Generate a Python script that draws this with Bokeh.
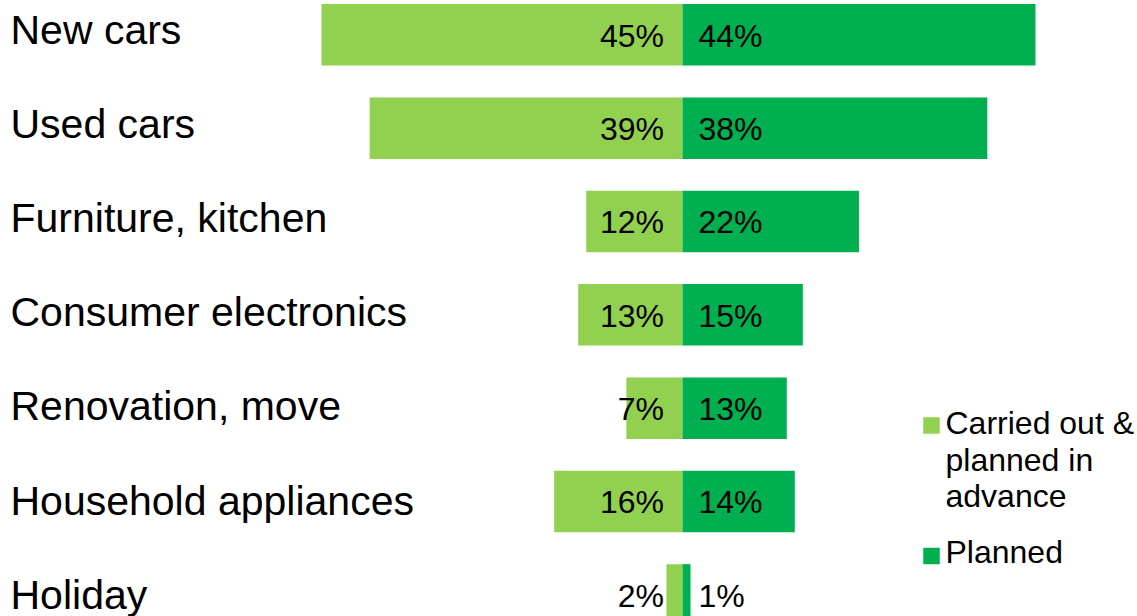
from bokeh.plotting import figure
from bokeh.models import Range1d, ColumnDataSource
from bokeh.core.properties import value
from bokeh.embed import file_html
from bokeh.resources import INLINE

# ---- data ----
categories = ["New cars", "Used cars", "Furniture, kitchen", "Consumer electronics",
              "Renovation, move", "Household appliances", "Holiday"]
carried_out = [45, 39, 12, 13, 7, 16, 2]   # Carried out & planned in advance
planned = [44, 38, 22, 15, 13, 14, 1]      # Planned
series_names = ["Carried out &\nplanned in\nadvance", "Planned"]

LIGHT = "#92D050"
DARK = "#00B050"
FONT = "Liberation Sans"

W, H = 1137, 616
PX_PER_X = 8.022     # pixels per percentage point
X0_PX = 682          # pixel position of 0 %
ROW_PX = 93.35       # pixels per row
ROW0_PX = 34.3       # pixel centre of first row

x_start = -X0_PX / PX_PER_X
x_end = (W - X0_PX) / PX_PER_X
y_top = -ROW0_PX / ROW_PX
y_bottom = (H - ROW0_PX) / ROW_PX


def px_x(px):
    return x_start + px / PX_PER_X


def px_y(py):
    return y_top + py / ROW_PX


p = figure(width=W, height=H, output_backend="svg", toolbar_location=None,
           x_range=Range1d(x_start, x_end), y_range=Range1d(y_bottom, y_top),
           min_border=0, outline_line_color=None)
p.axis.visible = False
p.grid.visible = False
p.background_fill_color = "white"
p.border_fill_color = "white"

n = len(categories)
idx = list(range(n))
src = ColumnDataSource(dict(
    y=idx,
    cat=categories,
    carried_left=[-v for v in carried_out],
    zero=[0] * n,
    planned=planned,
    carried_lbl=[f"{v}%" for v in carried_out],
    planned_lbl=[f"{v}%" for v in planned],
    lbl_y=[i + (12.3 - 11.5) / ROW_PX for i in idx],
    cat_y=[(42 - 13 + 94.2 * i - ROW0_PX) / ROW_PX for i in idx],
))

bar_h = 61.5 / ROW_PX
p.hbar(y="y", left="carried_left", right="zero", height=bar_h, source=src,
       fill_color=LIGHT, line_color=None)
p.hbar(y="y", left="zero", right="planned", height=bar_h, source=src,
       fill_color=DARK, line_color=None)

# value labels
p.text(x=px_x(663.5), y="lbl_y", text="carried_lbl", source=src,
       text_align="right", text_baseline="alphabetic",
       text_font=value(FONT), text_font_size="32px", text_color="black")
p.text(x=px_x(698), y="lbl_y", text="planned_lbl", source=src,
       text_align="left", text_baseline="alphabetic",
       text_font=value(FONT), text_font_size="32px", text_color="black")

# category labels
p.text(x=px_x(10), y="cat_y", text="cat", source=src,
       text_align="left", text_baseline="alphabetic",
       text_font=value(FONT), text_font_size="41px", text_color="black")

# legend
p.scatter(x=[px_x(931), px_x(931)], y=[px_y(425), px_y(555.5)],
          marker="square", size=16.5, fill_color=[LIGHT, DARK], line_color=None)
p.text(x=[px_x(945), px_x(945)], y=[px_y(404.5), px_y(533)], text=series_names,
       text_align="left", text_baseline="top", text_line_height=1.02,
       text_font=value(FONT), text_font_size="32px", text_color="black")

open("out.html", "w").write(file_html(p, INLINE))
